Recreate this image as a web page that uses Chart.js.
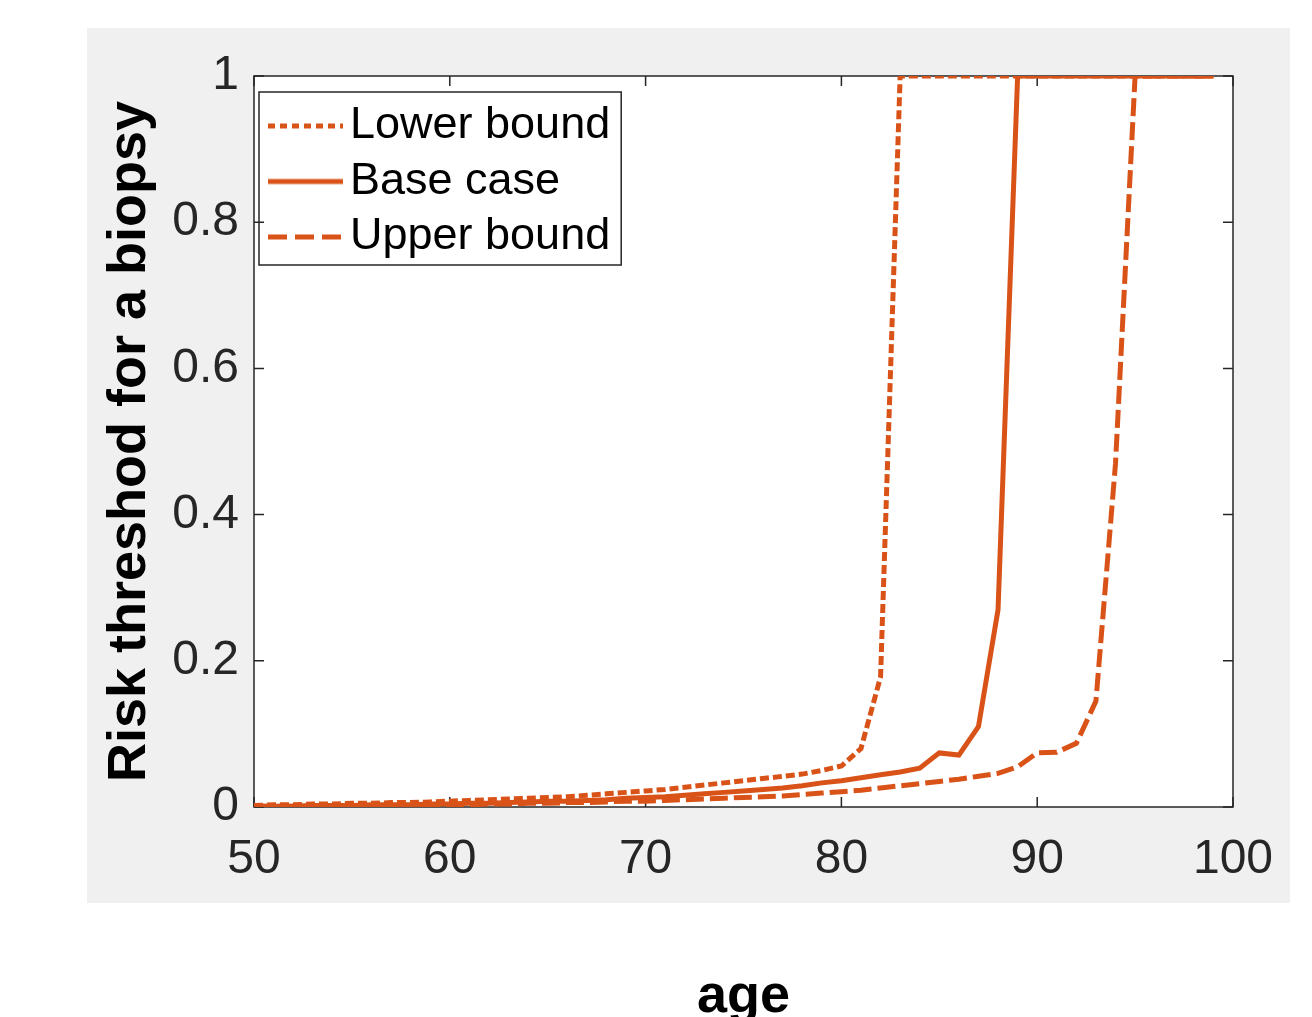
<!DOCTYPE html>
<html><head><meta charset="utf-8">
<script src="https://cdn.jsdelivr.net/npm/chart.js@4.4.1/dist/chart.umd.min.js"></script>
<style>html,body{margin:0;padding:0;background:#fff;}canvas{display:block;}</style>
</head><body>
<canvas id="c" width="1312" height="1017"></canvas>
<script>
const ages = [50,51,52,53,54,55,56,57,58,59,60,61,62,63,64,65,66,67,68,69,70,71,72,73,74,75,76,77,78,79,80,81,82,83,84,85,86,87,88,89,90,91,92,93,94,95,96,97,98,99];
const lowerBound = [0.002,0.003,0.003,0.004,0.004,0.005,0.005,0.006,0.006,0.007,
  0.008,0.009,0.010,0.011,0.012,0.013,0.014,0.016,0.018,0.020,
  0.022,0.024,0.027,0.030,0.033,0.036,0.039,0.042,0.045,0.050,
  0.056,0.080,0.178,
  1,1,1,1,1,1,1,1,1,1,1,1,1,1,1,1,1];
const baseCase = [0.001,0.001,0.001,0.002,0.002,0.002,0.003,0.003,0.003,0.004,
  0.004,0.005,0.005,0.006,0.007,0.008,0.008,0.009,0.010,0.012,
  0.013,0.014,0.016,0.018,0.020,0.022,0.024,0.026,0.029,0.033,
  0.036,0.040,0.044,0.048,0.053,0.074,0.071,0.110,0.270,
  1,1,1,1,1,1,1,1,1,1,1];
const upperBound = [0.001,0.001,0.001,0.001,0.001,0.002,0.002,0.002,0.002,0.003,
  0.003,0.003,0.004,0.004,0.005,0.005,0.006,0.006,0.007,0.008,
  0.008,0.009,0.010,0.011,0.012,0.013,0.014,0.015,0.017,0.019,
  0.021,0.023,0.026,0.029,0.032,0.035,0.038,0.042,0.046,0.055,
  0.074,0.075,0.087,0.145,0.470,
  1,1,1,1,1];
const seriesNames = ['Lower bound','Base case','Upper bound'];
const xTickValues = [50,60,70,80,90,100];
const yTickValues = [0,0.2,0.4,0.6,0.8,1];
const xTitle = 'age';
const yTitle = 'Risk threshod for a biopsy';

const ORANGE = '#D95319';
const AXIS = '#262626';
const FONT = '"Liberation Sans", Arial, Helvetica, sans-serif';
const dashes = [[9,4], [], [18,6]];

function toPoints(arr){ return ages.map((a,i)=>({x:a, y:arr[i]})); }

function legendSample(dash){
  const c = document.createElement('canvas');
  c.width = 94; c.height = 10;
  const g = c.getContext('2d');
  g.strokeStyle = ORANGE; g.lineWidth = 5; g.setLineDash(dash);
  g.beginPath(); g.moveTo(19,5); g.lineTo(94,5); g.stroke();
  return c;
}
const samples = [[7,5], [], [19,8]].map(legendSample);

const framePlugin = {
  id: 'matlabFrame',
  afterLayout(chart){
    const lg = chart.legend, a = chart.chartArea;
    if (!lg) return;
    const dy = a.top - lg.top;
    lg.top += dy; lg.bottom += dy;
    (lg.legendHitBoxes || []).forEach(b => { b.top += dy; });
  },
  beforeDraw(chart){
    const ctx = chart.ctx, a = chart.chartArea;
    ctx.save();
    ctx.fillStyle = '#f0f0f0';
    ctx.fillRect(87, 28, 1203, 875);
    ctx.fillStyle = '#ffffff';
    ctx.fillRect(a.left, a.top, a.right - a.left, a.bottom - a.top);
    ctx.restore();
  },
  beforeDatasetsDraw(chart){
    const ctx = chart.ctx, a = chart.chartArea;
    const xs = chart.scales.x, ys = chart.scales.y;
    ctx.save();
    ctx.strokeStyle = AXIS; ctx.lineWidth = 1.5;
    ctx.strokeRect(a.left, a.top, a.right - a.left, a.bottom - a.top);
    const tl = 10;
    ctx.beginPath();
    xs.ticks.forEach(t => {
      const p = xs.getPixelForValue(t.value);
      ctx.moveTo(p, a.bottom); ctx.lineTo(p, a.bottom - tl);
      ctx.moveTo(p, a.top); ctx.lineTo(p, a.top + tl);
    });
    ys.ticks.forEach(t => {
      const p = ys.getPixelForValue(t.value);
      ctx.moveTo(a.left, p); ctx.lineTo(a.left + tl, p);
      ctx.moveTo(a.right, p); ctx.lineTo(a.right - tl, p);
    });
    ctx.stroke();
    ctx.restore();
  },
  afterDraw(chart){
    const lg = chart.legend;
    if (!lg || !lg.legendHitBoxes || !lg.legendHitBoxes.length) return;
    const hb = lg.legendHitBoxes;
    const l = Math.min(...hb.map(b=>b.left)) - 5.5;
    const t = Math.min(...hb.map(b=>b.top)) - 11.5;
    const r = Math.max(...hb.map(b=>b.left + b.width)) + 11;
    const btm = Math.max(...hb.map(b=>b.top + b.height)) + 5.5;
    const ctx = chart.ctx;
    ctx.save();
    ctx.strokeStyle = AXIS; ctx.lineWidth = 1.5;
    ctx.strokeRect(l, t, r - l, btm - t);
    ctx.restore();
  }
};

new Chart(document.getElementById('c'), {
  type: 'line',
  data: {
    datasets: [
      {label: seriesNames[0], data: toPoints(lowerBound), borderColor: ORANGE, backgroundColor: ORANGE, borderWidth: 5, borderDash: dashes[0], pointRadius: 0, tension: 0, order: 1},
      {label: seriesNames[1], data: toPoints(baseCase), borderColor: ORANGE, backgroundColor: ORANGE, borderWidth: 5, borderDash: dashes[1], pointRadius: 0, tension: 0, order: 0},
      {label: seriesNames[2], data: toPoints(upperBound), borderColor: ORANGE, backgroundColor: ORANGE, borderWidth: 5, borderDash: dashes[2], pointRadius: 0, tension: 0, order: 2}
    ]
  },
  options: {
    responsive: false,
    animation: false,
    devicePixelRatio: 1,
    layout: {padding: {left: 0, top: 76, right: 79, bottom: 0}},
    scales: {
      x: {
        type: 'linear', min: 50, max: 100,
        afterBuildTicks: s => { s.ticks = xTickValues.map(v => ({value: v})); },
        afterFit: s => { s.height = 210; },
        grid: {display: false, drawTicks: false},
        border: {display: false},
        ticks: {color: AXIS, padding: 24, font: {family: FONT, size: 48}, maxRotation: 0, autoSkip: false},
        title: {display: true, text: xTitle, color: '#000', padding: {top: 0, bottom: 0}, font: {family: FONT, size: 54, weight: 'bold', lineHeight: 0.75}}
      },
      y: {
        type: 'linear', min: 0, max: 1,
        afterBuildTicks: s => { s.ticks = yTickValues.map(v => ({value: v})); },
        afterFit: s => { s.width = 254; },
        grid: {display: false, drawTicks: false},
        border: {display: false},
        ticks: {color: AXIS, padding: 15, font: {family: FONT, size: 48}, autoSkip: false, callback: v => String(v)},
        title: {display: true, text: yTitle, color: '#000', padding: {top: 98, bottom: 0}, font: {family: FONT, size: 54, weight: 'bold'}}
      }
    },
    plugins: {
      tooltip: {enabled: false},
      legend: {
        position: 'chartArea',
        align: 'start',
        title: {display: true, text: '', font: {size: 10, lineHeight: 1}, padding: {top: 5, bottom: 2}},
        labels: {
          color: '#000',
          font: {family: FONT, size: 45},
          padding: 10.5,
          usePointStyle: true,
          pointStyleWidth: 63,
          sort: (a, b) => a.datasetIndex - b.datasetIndex,
          generateLabels: chart => chart.data.datasets.map((ds, i) => ({
            text: ds.label, datasetIndex: i, fillStyle: ORANGE, strokeStyle: ORANGE,
            lineWidth: 0, pointStyle: samples[i], hidden: false, fontColor: '#000'
          }))
        }
      }
    }
  },
  plugins: [framePlugin]
});
</script>
</body></html>
